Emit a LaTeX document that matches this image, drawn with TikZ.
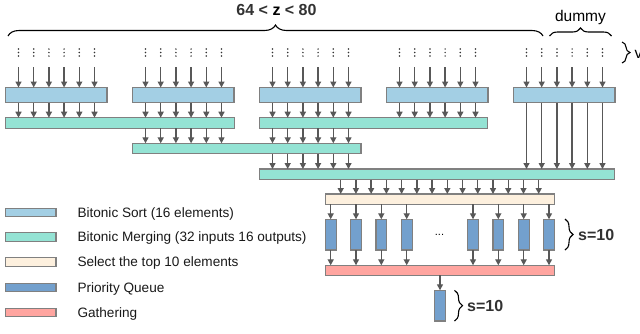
\documentclass[tikz,border=0pt]{standalone}
\usepackage{fontspec}
\setmainfont{Liberation Sans}
\usetikzlibrary{arrows.meta,decorations.pathreplacing}
\definecolor{sortc}{RGB}{163,207,228}
\definecolor{mergec}{RGB}{148,227,212}
\definecolor{selc}{RGB}{253,240,222}
\definecolor{pqc}{RGB}{115,160,205}
\definecolor{gathc}{RGB}{255,165,160}
\definecolor{bordc}{RGB}{128,128,128}
\definecolor{arrc}{RGB}{88,88,88}
\definecolor{txtc}{RGB}{50,50,50}
\begin{document}
\begin{tikzpicture}[x=1pt,y=-1pt,
  box/.style={draw=bordc, line width=1.1pt, inner sep=0pt, outer sep=0pt, anchor=north west},
  sortbox/.style={box, fill=sortc, minimum width=101.5pt, minimum height=15pt},
  mergebox/.style={box, fill=mergec, minimum height=10.5pt},
  selbox/.style={box, fill=selc, minimum width=228.6pt, minimum height=10.3pt},
  pqbox/.style={box, fill=pqc, minimum width=10.7pt, minimum height=30.7pt, anchor=north},
  gathbox/.style={box, fill=gathc, minimum width=228.6pt, minimum height=10pt},
  legbox/.style={box, minimum width=50.5pt, minimum height=8.5pt},
  arr/.style={draw=arrc, line width=1.35pt, -{Triangle[length=6pt,width=6pt]}},
  brc/.style={decorate, decoration={brace, amplitude=8pt}, line width=1.1pt},
  legtxt/.style={font=\fontsize{13.6}{16}\selectfont, anchor=base west, inner sep=0pt, text=black!90},
  boldtxt/.style={font=\fontsize{16}{19}\selectfont\bfseries, inner sep=0pt, text=txtc},
]
\useasboundingbox (0,0) rectangle (640,333);

% Bitonic sort boxes
\foreach \i in {0,...,4} {
  \node[sortbox] (s\i) at ({5.5+127*\i},87.5) {};
}
% merge boxes
\node[mergebox, minimum width=229pt] (m1) at (5.5,117.7) {};
\node[mergebox, minimum width=228pt] (m2) at (259.5,117.7) {};
\node[mergebox, minimum width=228.5pt] (m3) at (132.5,143.3) {};
\node[mergebox, minimum width=355pt] (m4) at (259.5,169) {};
% select
\node[selbox] (sel) at (325.7,194) {};
% priority queues
\foreach \c [count=\j] in {330.7,356,381.3,406.7,473,498.3,523.7,549} {
  \node[pqbox] (p\j) at (\c,219.3) {};
}
\node[font=\fontsize{11}{13}\selectfont, inner sep=0pt] (dd) at (439.5,235) {...};
% gathering
\node[gathbox] (g) at (325.7,265.3) {};
\node[pqbox] (fin) at (440,290.3) {};

% inputs: dots and arrows into sort boxes
\foreach \i in {0,...,4} {
  \foreach \k in {0,...,5} {
    \pgfmathsetmacro\xx{5.5+127*\i+13+15.2*\k}
    \foreach \yy in {49,52.5,56} {
      \fill[black!80] (\xx,\yy) circle[radius=0.85pt];
    }
    \draw[arr] (\xx,67) -- (\xx,0 |- s\i.north);
  }
}
% sort -> merge
\foreach \i/\m in {0/m1,1/m1,2/m2,3/m2,4/m4} {
  \foreach \k in {0,...,5} {
    \pgfmathsetmacro\xx{5.5+127*\i+13+15.2*\k}
    \draw[arr] (\xx,0 |- s\i.south) -- (\xx,0 |- \m.north);
  }
}
% merge1 -> merge2 ; merge2 -> merge3
\foreach \k in {0,...,5} {
  \pgfmathsetmacro\xa{145.5+15.2*\k}
  \pgfmathsetmacro\xb{272.5+15.2*\k}
  \draw[arr] (\xa,0 |- m1.south) -- (\xa,0 |- m3.north);
  \draw[arr] (\xb,0 |- m2.south) -- (\xb,0 |- m3.north);
  \draw[arr] (\xb,0 |- m3.south) -- (\xb,0 |- m4.north);
}
% merge3 -> select
\foreach \k in {0,...,13} {
  \pgfmathsetmacro\xx{340.7+15.23*\k}
  \draw[arr] (\xx,0 |- m4.south) -- (\xx,0 |- sel.north);
}
% select -> PQ -> gather
\foreach \j in {1,...,8} {
  \draw[arr] (p\j |- sel.south) -- (p\j.north);
  \draw[arr] (p\j.south) -- (p\j |- g.north);
}
\draw[arr] (fin |- g.south) -- (fin.north);

% braces and labels
\draw[brc, decoration={amplitude=11pt}] (8,36) -- (543,36);
\node[boldtxt, anchor=base] (zl) at (276.5,15) {64 < \textcolor{black}{z} < 80};
\draw[brc] (549.5,36) -- (611.5,36);
\node[font=\fontsize{15.5}{18}\selectfont, anchor=base, inner sep=0pt] (dl) at (580.5,21.5) {dummy};
\draw[brc] (622,42) -- (622,63);
\node[font=\fontsize{15.5}{18}\selectfont, anchor=base west, inner sep=0pt] (vl) at (634.5,58) {v};
\draw[brc] (565,219) -- (565,250);
\node[boldtxt, anchor=base west] (sl1) at (578,240) {s=10};
\draw[brc] (454.5,290.3) -- (454.5,321);
\node[boldtxt, anchor=base west] (sl2) at (467,311) {s=10};

% legend
\foreach \col/\yt/\yb/\t [count=\n] in {sortc/208.3/217.3/Bitonic Sort (16 elements),
    mergec/232.8/241.9/Bitonic Merging (32 inputs 16 outputs),
    selc/257.7/266.6/Select the top 10 elements,
    pqc/283.2/292/Priority Queue,
    gathc/308.3/317.2/Gathering} {
  \node[legbox, fill=\col] (lb\n) at (5.5,\yt) {};
  \node[legtxt] (lt\n) at (77.3,\yb) {\t};
}
\end{tikzpicture}
\end{document}
